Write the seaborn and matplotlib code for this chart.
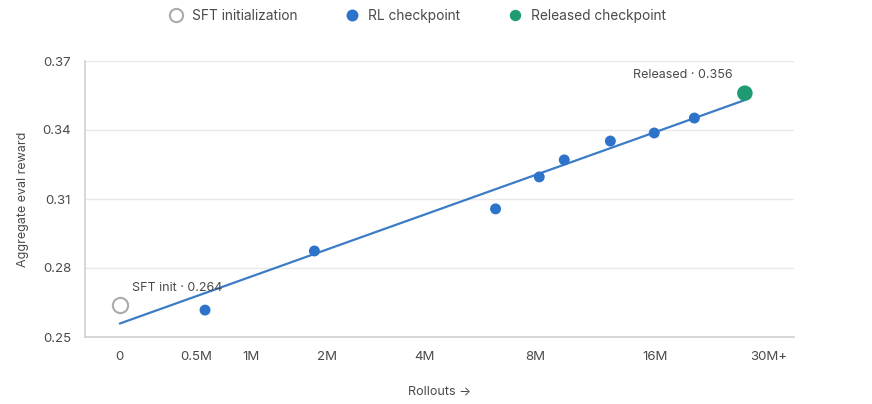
import numpy as np
import seaborn as sns
import matplotlib.pyplot as plt
from matplotlib.lines import Line2D

# rollouts in millions, reward values
sft_x = [0.0]
sft_y = [0.264]
rl_x = [0.57, 1.8, 6.3, 8.2, 9.5, 12.4, 15.9, 19.9]
rl_y = [0.2617, 0.2874, 0.3057, 0.3196, 0.3270, 0.3352, 0.3387, 0.3452]
rel_x = [26.3]
rel_y = [0.356]

x_ticks = [0, 0.5, 1, 2, 4, 8, 16, 30]
x_tick_labels = ["0", "0.5M", "1M", "2M", "4M", "8M", "16M", "30M+"]
y_ticks = [0.25, 0.28, 0.31, 0.34, 0.37]

blue = "#2c73c9"
green = "#1f9b74"
grey = "#ababab"
text_col = "#4a4a4a"

sns.set_style("white")
plt.rcParams['font.family'] = ['Inter', 'DejaVu Sans']

fig = plt.figure(figsize=(8.72, 4.04), dpi=100)
ax = fig.add_axes([85 / 872, 1 - 337 / 404, (794 - 85) / 872, (337 - 61) / 404])
ax.set_xscale('function', functions=(np.log1p, np.expm1))

# fit line in log1p space over all points
all_x = np.array(sft_x + rl_x + rel_x)
all_y = np.array(sft_y + rl_y + rel_y)
slope, icpt = np.polyfit(np.log1p(all_x), all_y, 1)
fit_x = np.linspace(0, rel_x[0], 50)
fit_y = icpt + slope * np.log1p(fit_x)
sns.lineplot(x=fit_x, y=fit_y, ax=ax, color="#3b7cc6", linewidth=1.6, zorder=2)

sns.scatterplot(x=sft_x, y=sft_y, ax=ax, s=120, facecolor="white", edgecolor=grey,
                linewidth=1.5, zorder=3)
sns.scatterplot(x=rl_x, y=rl_y, ax=ax, s=62, color=blue, edgecolor="none", zorder=3)
sns.scatterplot(x=rel_x, y=rel_y, ax=ax, s=125, color=green, edgecolor="none", zorder=4)

ax.annotate("SFT init · 0.264", (sft_x[0], sft_y[0]), xytext=(9, 8), textcoords='offset points',
            fontsize=9, color=text_col, ha='left', va='bottom')
ax.annotate("Released · 0.356", (rel_x[0], rel_y[0]), xytext=(-9, 9), textcoords='offset points',
            fontsize=9, color=text_col, ha='right', va='bottom')

ax.set_xlim(-0.168, 34.4)
ax.set_ylim(0.25, 0.37)
ax.set_xticks(x_ticks)
ax.set_xticklabels(x_tick_labels)
ax.set_yticks(y_ticks)
ax.set_yticklabels([f"{v:.2f}" for v in y_ticks])
ax.yaxis.grid(True, color="#e9e9e9", linewidth=1)
ax.xaxis.grid(False)

for s in ['top', 'right']:
    ax.spines[s].set_visible(False)
for s in ['left', 'bottom']:
    ax.spines[s].set_color("#cfcfcf")
    ax.spines[s].set_linewidth(1.2)

ax.tick_params(axis='x', length=4, width=1, color="#cfcfcf", labelsize=9.5, labelcolor=text_col, pad=6)
ax.tick_params(axis='y', length=0, labelsize=9.5, labelcolor=text_col, pad=10)

ax.set_xlabel("Rollouts →", fontsize=9, color=text_col, labelpad=16)
ax.set_ylabel("Aggregate eval reward", fontsize=9, color=text_col, labelpad=10)

handles = [
    Line2D([], [], marker='o', linestyle='none', markersize=9.5, markerfacecolor='white',
           markeredgecolor=grey, markeredgewidth=1.5),
    Line2D([], [], marker='o', linestyle='none', markersize=8.6, markerfacecolor=blue,
           markeredgecolor='none'),
    Line2D([], [], marker='o', linestyle='none', markersize=8.2, markerfacecolor=green,
           markeredgecolor='none'),
]
labels = ["SFT initialization", "RL checkpoint", "Released checkpoint"]
ax.legend(handles, labels, loc='center', bbox_to_anchor=(0.479, 1 - 16 / 404),
          bbox_transform=fig.transFigure, ncol=3, frameon=False, fontsize=9.9,
          labelcolor=text_col, handlelength=1.0, handletextpad=0.65, columnspacing=3.5)

fig.savefig("out.png", dpi=100)
